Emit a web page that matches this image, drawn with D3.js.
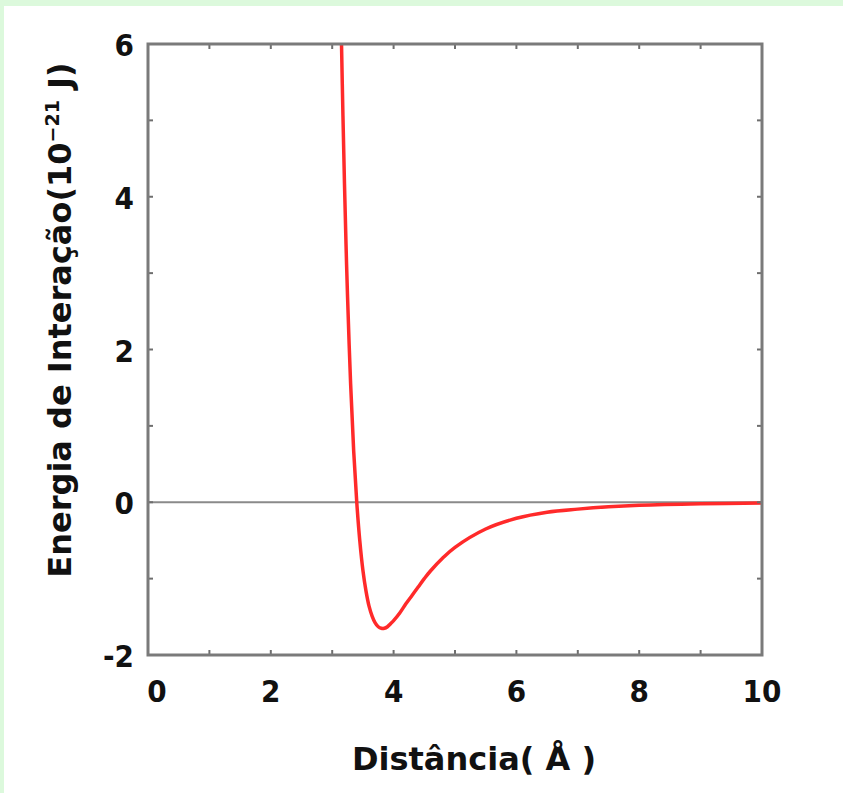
<!DOCTYPE html>
<html><head><meta charset="utf-8">
<script src="https://cdn.jsdelivr.net/npm/d3@7"></script>
<style>
html,body{margin:0;padding:0;background:#fff;}
svg{display:block;}
</style></head>
<body>
<svg id="chart" width="843" height="793"></svg>
<script>
// Data (Distância in Å, Energia in 10^-21 J)
const distance = [3.15, 3.175, 3.2, 3.225, 3.25, 3.3, 3.35, 3.4, 3.45, 3.5, 3.55, 3.6, 3.65, 3.7, 3.75, 3.8, 3.85, 3.9, 3.95, 4.0, 4.1, 4.2, 4.3, 4.4, 4.5, 4.6, 4.8, 5.0, 5.5, 6.0, 6.5, 7.0, 7.5, 8.0, 9.0, 10.0];
const energy   = [6.07, 5.06, 4.17, 3.38, 2.69, 1.55, 0.67, 0.0, -0.51, -0.89, -1.16, -1.36, -1.49, -1.58, -1.63, -1.65, -1.65, -1.63, -1.59, -1.55, -1.45, -1.33, -1.22, -1.11, -1.00, -0.90, -0.73, -0.59, -0.35, -0.21, -0.13, -0.09, -0.06, -0.04, -0.02, -0.01];
const xTickLabels = [0, 2, 4, 6, 8, 10];
const yTickLabels = [-2, 0, 2, 4, 6];
const xMinor = [1,2,3,4,5,6,7,8,9];
const yMinor = [-1,0,1,2,3,4,5];

(function(){
const svg = d3.select("#chart");
const W = 843, H = 793;
const pL = 148, pR = 762, pT = 44, pB = 655;
const FONT = "'DejaVu Sans',Verdana,sans-serif";
const FONTC = "'DejaVu Sans Condensed','DejaVu Sans',Verdana,sans-serif";

// background with light green border
svg.append("rect").attr("x",0).attr("y",0).attr("width",W).attr("height",H).attr("fill","#dcf9dc");
svg.append("rect").attr("x",4).attr("y",6).attr("width",W-4).attr("height",H-6).attr("fill","#ffffff");

const x = d3.scaleLinear().domain([0,10]).range([pL,pR]);
const y = d3.scaleLinear().domain([-2,6]).range([pB,pT]);

const g = svg.append("g");

// zero line
g.append("line").attr("x1",x(0)).attr("x2",x(10)).attr("y1",y(0)).attr("y2",y(0))
  .attr("stroke","#8a8a8a").attr("stroke-width",2);

// curve
svg.append("clipPath").attr("id","clip").append("rect")
  .attr("x",pL).attr("y",pT).attr("width",pR-pL).attr("height",pB-pT);
const pts = distance.map((d,i)=>[d, energy[i]]);
g.append("path").datum(pts)
  .attr("clip-path","url(#clip)")
  .attr("d", d3.line().x(d=>x(d[0])).y(d=>y(d[1])).curve(d3.curveCatmullRom.alpha(0.5)))
  .attr("fill","none").attr("stroke","#ff2a2a").attr("stroke-width",3.5)
  .attr("stroke-linejoin","round");

// inward minor ticks on all four sides
const tl = 5;
const tickStyle = s => s.attr("stroke","#6e6e6e").attr("stroke-width",2);
xMinor.forEach(v=>{
  g.append("line").attr("x1",x(v)).attr("x2",x(v)).attr("y1",pB).attr("y2",pB-tl).call(tickStyle);
  g.append("line").attr("x1",x(v)).attr("x2",x(v)).attr("y1",pT).attr("y2",pT+tl).call(tickStyle);
});
yMinor.forEach(v=>{
  g.append("line").attr("x1",pL).attr("x2",pL+tl).attr("y1",y(v)).attr("y2",y(v)).call(tickStyle);
  g.append("line").attr("x1",pR).attr("x2",pR-tl).attr("y1",y(v)).attr("y2",y(v)).call(tickStyle);
});

// frame
g.append("rect").attr("x",pL).attr("y",pT).attr("width",pR-pL).attr("height",pB-pT)
  .attr("fill","none").attr("stroke","#7a7a7a").attr("stroke-width",3);

// tick labels
g.selectAll(".xl").data(xTickLabels).enter().append("text")
  .attr("x",d=> d===0 ? x(d)+9 : x(d)).attr("y",pB+47)
  .attr("text-anchor","middle").attr("font-family",FONTC).attr("font-weight","bold")
  .attr("font-size",31).attr("fill","#111").text(d=>d);
g.selectAll(".yl").data(yTickLabels).enter().append("text")
  .attr("x",pL-14).attr("y",d=>y(d)+12)
  .attr("text-anchor","end").attr("font-family",FONTC).attr("font-weight","bold")
  .attr("font-size",31).attr("fill","#111").text(d=>d);

// x title
svg.append("text").attr("x",474).attr("y",770).attr("text-anchor","middle")
  .attr("font-family",FONT).attr("font-weight","bold").attr("font-size",32).attr("fill","#111")
  .text("Distância( Å )");

// y title
const yt = svg.append("text").attr("transform","translate(71,320) rotate(-90)")
  .attr("text-anchor","middle").attr("font-family",FONT).attr("font-weight","bold")
  .attr("font-size",32).attr("fill","#111");
yt.append("tspan").text("Energia de Interação(10");
yt.append("tspan").attr("dy",-12).attr("font-size",19).text("−21");
yt.append("tspan").attr("dy",12).text(" J)");
})();
</script>
</body></html>
